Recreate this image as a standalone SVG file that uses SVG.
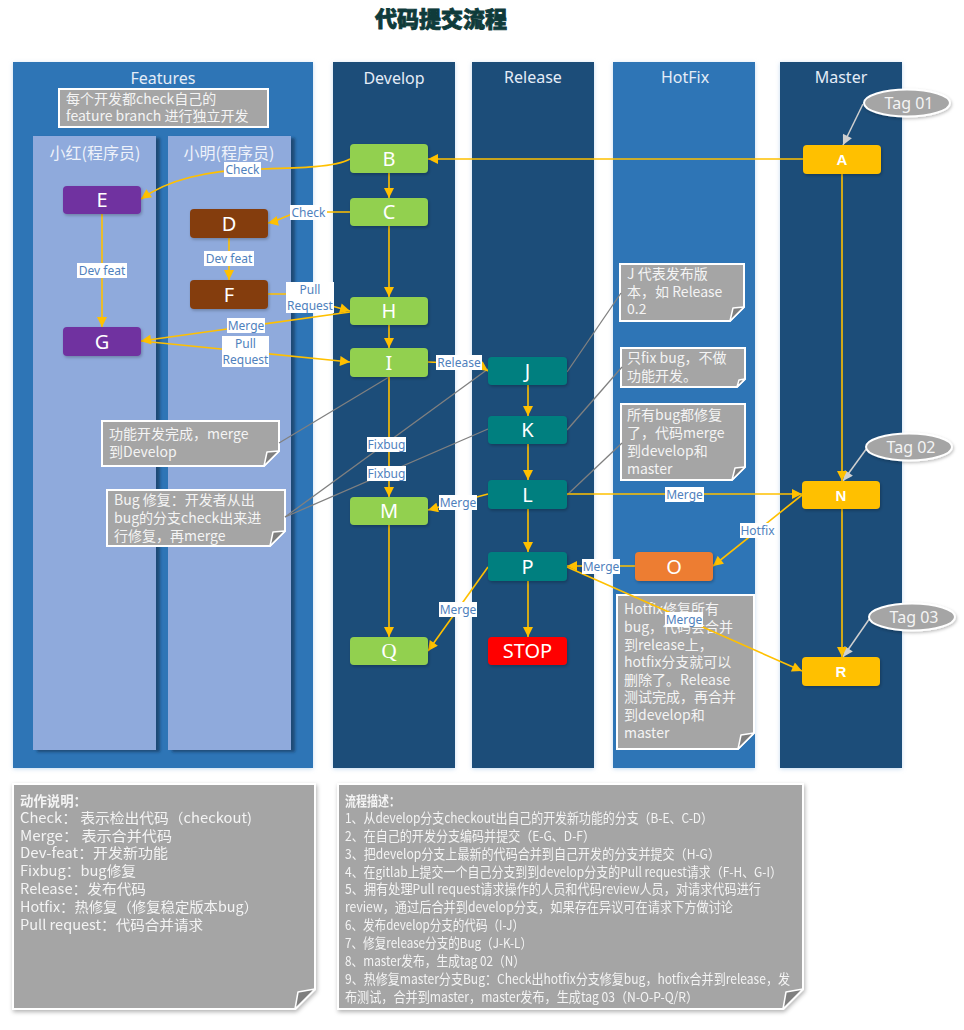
<svg xmlns="http://www.w3.org/2000/svg" width="964" height="1030" viewBox="0 0 964 1030">
<style>
.lane-d{fill:#1f4e79;filter:url(#glow)}
.lane-l{fill:#2e75b6;filter:url(#glow)}
.sub{fill:#8faadc;filter:url(#subsh)}
.lh{font-family:'Noto Sans','Noto Sans CJK SC',sans-serif;font-size:16px;fill:#e4ecf7;text-anchor:middle}
.sh{font-family:'Noto Sans CJK SC','Noto Sans',sans-serif;font-size:16px;fill:#eef2fa;text-anchor:middle}
.n{stroke:none;filter:url(#nsh)}
.nt{font-family:'Noto Sans','Open Sans',sans-serif;font-size:20px;fill:#fff;text-anchor:middle}
.nb{font-family:'Liberation Sans',Arial,sans-serif;font-size:15px;font-weight:bold;fill:#fff;text-anchor:middle}
.c{stroke:#ffc000;stroke-width:1.6;fill:none;marker-end:url(#ag)}
.g{stroke:#808080;stroke-width:1.3;fill:none}
.tagl{stroke:#d0d0d0;stroke-width:1.5;fill:none;marker-end:url(#agr)}
.lb{fill:#fff}
.lt{font-family:'Noto Sans','Open Sans',sans-serif;font-size:12px;fill:#4f81bd;text-anchor:middle}
.note{fill:#a5a5a5;stroke:#fff;stroke-width:2}
.fold{fill:#7f7f7f;stroke:#fff;stroke-width:1.5;stroke-linejoin:round}
.nx{font-family:'Noto Sans CJK SC','Noto Sans',sans-serif;font-size:14px;fill:#f4f4f4}
.bx{font-family:'Noto Sans CJK SC','Noto Sans',sans-serif;font-size:14px;fill:#f4f4f4}
.bxr{font-family:'Noto Sans CJK SC','Noto Sans',sans-serif;font-size:13.5px;fill:#f4f4f4}
.tag{fill:#a5a5a5;stroke:#fff;stroke-width:2;filter:url(#nsh)}
.tagt{font-family:'Noto Sans',sans-serif;font-size:16px;fill:#f4f4f4;text-anchor:middle}
</style>
<defs>
<filter id="glow" x="-5%" y="-5%" width="110%" height="110%"><feDropShadow dx="0" dy="1" stdDeviation="2" flood-color="#9dc3e6" flood-opacity="0.6"/></filter>
<filter id="subsh" x="-10%" y="-5%" width="125%" height="110%"><feDropShadow dx="4" dy="2" stdDeviation="1.5" flood-color="#1d3d66" flood-opacity="0.8"/></filter>
<filter id="nsh" x="-10%" y="-20%" width="125%" height="150%"><feDropShadow dx="1" dy="1.5" stdDeviation="1.5" flood-color="#000" flood-opacity="0.25"/></filter>
<filter id="bsh" x="-5%" y="-5%" width="110%" height="110%"><feDropShadow dx="1" dy="2" stdDeviation="2" flood-color="#000" flood-opacity="0.3"/></filter>
<marker id="ag" viewBox="0 0 10 10" refX="10" refY="5" markerWidth="11" markerHeight="10" markerUnits="userSpaceOnUse" orient="auto"><path d="M0,0 L10,5 L0,10 z" fill="#ffc000"/></marker>
<marker id="agr" viewBox="0 0 10 10" refX="10" refY="5" markerWidth="12" markerHeight="10" markerUnits="userSpaceOnUse" orient="auto"><path d="M0,0 L10,5 L0,10 z" fill="#d0d0d0"/></marker>
</defs>
<rect width="964" height="1030" fill="#fff"/>
<text x="441" y="27" font-family="'Noto Sans CJK SC',sans-serif" font-size="22" font-weight="900" fill="#0f3b3b" stroke="#0f3b3b" stroke-width="0.8" text-anchor="middle">代码提交流程</text>

<g id="lanes">
<rect class="lane-l" x="13" y="62" width="300" height="706"/>
<text class="lh" x="163" y="84">Features</text>
<rect class="sub" x="33" y="136" width="123" height="614"/>
<rect class="sub" x="168" y="136" width="123" height="614"/>
<text class="sh" x="95" y="159">小红(程序员)</text>
<text class="sh" x="229" y="159">小明(程序员)</text>
<rect class="lane-d" x="333" y="62" width="122" height="706"/>
<text class="lh" x="394" y="84">Develop</text>
<rect class="lane-d" x="472" y="62" width="122" height="706"/>
<text class="lh" x="533" y="83">Release</text>
<rect class="lane-l" x="613" y="62" width="142" height="706"/>
<text class="lh" x="685" y="83">HotFix</text>
<rect class="lane-d" x="780" y="62" width="122" height="706"/>
<text class="lh" x="841" y="83">Master</text>
</g>

<g id="notes">
<g id="note-feature">
<rect class="note" x="59" y="89" width="209" height="38"/>
<text class="nx" x="66" y="104">每个开发都check自己的</text>
<text class="nx" x="66" y="121">feature branch 进行独立开发</text>
</g>
<g id="note-done">
<path class="note" d="M102,421 H279 V451 L264,466 H102 Z"/>
<path class="fold" d="M264,466 L279,451 L267,452 Z"/>
<text class="nx" x="109" y="439">功能开发完成，merge</text>
<text class="nx" x="109" y="457">到Develop</text>
</g>
<g id="note-bug">
<path class="note" d="M107,490 H285 V531 L270,546 H107 Z"/>
<path class="fold" d="M270,546 L285,531 L273,532 Z"/>
<text class="nx" x="114" y="505">Bug 修复：开发者从出</text>
<text class="nx" x="114" y="523">bug的分支check出来进</text>
<text class="nx" x="114" y="541">行修复，再merge</text>
</g>
<g id="note-j">
<path class="note" d="M620,264 H744 V307 L730,321 H620 Z"/>
<path class="fold" d="M730,321 L744,307 L733,308 Z"/>
<text class="nx" x="627" y="279">J 代表发布版</text>
<text class="nx" x="627" y="297">本，如 Release</text>
<text class="nx" x="627" y="314">0.2</text>
</g>
<g id="note-fix">
<path class="note" d="M621,348 H745 V379 L737,387 H621 Z"/>
<path class="fold" d="M737,387 L745,379 L739,380 Z"/>
<text class="nx" x="627" y="363">只fix bug，不做</text>
<text class="nx" x="627" y="381">功能开发。</text>
</g>
<g id="note-allbug">
<path class="note" d="M621,404 H745 V467 L732,480 H621 Z"/>
<path class="fold" d="M732,480 L745,467 L735,468 Z"/>
<text class="nx" x="627" y="420">所有bug都修复</text>
<text class="nx" x="627" y="438">了，代码merge</text>
<text class="nx" x="627" y="456">到develop和</text>
<text class="nx" x="627" y="474">master</text>
</g>
<g id="note-hotfix">
<path class="note" d="M617,595 H754 V733 L738,749 H617 Z"/>
<path class="fold" d="M738,749 L754,733 L741,735 Z"/>
<text class="nx" x="624" y="614">Hotfix修复所有</text>
<text class="nx" x="624" y="632">bug，代码会合并</text>
<text class="nx" x="624" y="650">到release上，</text>
<text class="nx" x="624" y="667">hotfix分支就可以</text>
<text class="nx" x="624" y="685">删除了。Release</text>
<text class="nx" x="624" y="702">测试完成，再合并</text>
<text class="nx" x="624" y="720">到develop和</text>
<text class="nx" x="624" y="738">master</text>
</g>
</g>

<g id="connectors">
<path class="g" d="M279,443 L389,377"/>
<path class="g" d="M285,517 L488,369"/>
<path class="g" d="M285,517 L488,429"/>
<path class="g" d="M567,372 L621,293"/>
<path class="g" d="M567,430 L622,367"/>
<path class="g" d="M567,495 L622,443"/>
<path class="tagl" d="M863,104 L843,145"/>
<path class="tagl" d="M867,448 L843,481"/>
<path class="tagl" d="M870,618 L843,657"/>
<path class="c" d="M803,159 L428,159"/>
<path class="c" d="M350,159 C336,167 300,168 262,169 C205,170 168,180 141,199"/>
<path class="c" d="M389,173 L389,198"/>
<path class="c" d="M350,212 L300,212 C290,213 282,220 268,223"/>
<path class="c" d="M102,214 L102,327"/>
<path class="c" d="M229,238 L229,280"/>
<path class="c" d="M268,294 L288,294 L350,311"/>
<path class="c" d="M389,226 L389,297"/>
<path class="c" d="M350,312 L141,341"/>
<path class="c" d="M141,341 L350,362"/>
<path class="c" d="M389,325 L389,348"/>
<path class="c" d="M428,362 L478,364 L488,371"/>
<path class="c" d="M389,377 L389,497"/>
<path class="c" d="M528,385 L528,416"/>
<path class="c" d="M528,444 L528,480"/>
<path class="c" d="M488,494 L428,510"/>
<path class="c" d="M567,494 L802,494"/>
<path class="c" d="M528,509 L528,552"/>
<path class="c" d="M802,495 L713,566"/>
<path class="c" d="M635,566 L567,566"/>
<path class="c" d="M567,567 L802,671"/>
<path class="c" d="M528,581 L528,637"/>
<path class="c" d="M488,567 L428,651"/>
<path class="c" d="M389,525 L389,637"/>
<path class="c" d="M842,174 L842,481"/>
<path class="c" d="M842,509 L842,657"/>
<g id="labels">
<rect class="lb" x="224" y="162" width="37" height="15"/><text class="lt" x="242.5" y="174">Check</text>
<rect class="lb" x="290" y="205" width="37" height="15"/><text class="lt" x="308.5" y="217">Check</text>
<rect class="lb" x="77" y="263" width="50" height="15"/><text class="lt" x="102" y="275">Dev feat</text>
<rect class="lb" x="204" y="251" width="50" height="15"/><text class="lt" x="229" y="263">Dev feat</text>
<rect class="lb" x="286" y="282" width="48" height="31"/><text class="lt" x="310" y="294">Pull</text><text class="lt" x="310" y="310">Request</text>
<rect class="lb" x="227" y="318" width="38" height="15"/><text class="lt" x="246" y="330">Merge</text>
<rect class="lb" x="222" y="336" width="47" height="31"/><text class="lt" x="245.5" y="348">Pull</text><text class="lt" x="245.5" y="364">Request</text>
<rect class="lb" x="436" y="355" width="46" height="15"/><text class="lt" x="459" y="367">Release</text>
<rect class="lb" x="367" y="437" width="39" height="15"/><text class="lt" x="386.5" y="449">Fixbug</text>
<rect class="lb" x="367" y="466" width="39" height="15"/><text class="lt" x="386.5" y="478">Fixbug</text>
<rect class="lb" x="439" y="495" width="38" height="15"/><text class="lt" x="458" y="507">Merge</text>
<rect class="lb" x="665" y="487" width="39" height="15"/><text class="lt" x="684.5" y="499">Merge</text>
<rect class="lb" x="740" y="523" width="35" height="15"/><text class="lt" x="757.5" y="535">Hotfix</text>
<rect class="lb" x="582" y="559" width="38" height="15"/><text class="lt" x="601" y="571">Merge</text>
<rect class="lb" x="665" y="612" width="38" height="15"/><text class="lt" x="684" y="624">Merge</text>
<rect class="lb" x="439" y="602" width="38" height="15"/><text class="lt" x="458" y="614">Merge</text>
</g>
</g>

<g id="tag01"><ellipse class="tag" cx="907" cy="103" rx="43" ry="13.5"/><text class="tagt" x="909" y="109">Tag 01</text></g>
<g id="tag02"><ellipse class="tag" cx="909" cy="447" rx="43" ry="13.5"/><text class="tagt" x="911" y="453">Tag 02</text></g>
<g id="tag03"><ellipse class="tag" cx="912" cy="617" rx="43" ry="13.5"/><text class="tagt" x="914" y="623">Tag 03</text></g>

<g id="node-A"><rect class="n" x="803" y="145" width="78" height="29" rx="4" fill="#ffc000"/><text class="nb" x="842" y="165">A</text></g>
<g id="node-B"><rect class="n" x="350" y="144" width="78" height="29" rx="4" fill="#92d050"/><text class="nt" x="389" y="165.5">B</text></g>
<g id="node-C"><rect class="n" x="350" y="198" width="78" height="28" rx="4" fill="#92d050"/><text class="nt" x="389" y="219">C</text></g>
<g id="node-E"><rect class="n" x="63" y="186" width="78" height="28" rx="4" fill="#7030a0"/><text class="nt" x="102" y="207">E</text></g>
<g id="node-D"><rect class="n" x="190" y="209" width="78" height="29" rx="4" fill="#843c0c"/><text class="nt" x="229" y="230.5">D</text></g>
<g id="node-F"><rect class="n" x="190" y="280" width="78" height="29" rx="4" fill="#843c0c"/><text class="nt" x="229" y="301.5">F</text></g>
<g id="node-G"><rect class="n" x="63" y="327" width="78" height="29" rx="4" fill="#7030a0"/><text class="nt" x="102" y="348.5">G</text></g>
<g id="node-H"><rect class="n" x="350" y="297" width="78" height="28" rx="4" fill="#92d050"/><text class="nt" x="389" y="318">H</text></g>
<g id="node-I"><rect class="n" x="350" y="348" width="78" height="29" rx="4" fill="#92d050"/><text class="nt" x="389" y="369.5">I</text></g>
<g id="node-M"><rect class="n" x="350" y="497" width="78" height="28" rx="4" fill="#92d050"/><text class="nt" x="389" y="518">M</text></g>
<g id="node-Q"><rect class="n" x="350" y="637" width="78" height="28" rx="4" fill="#92d050"/><text x="389" y="658" font-family="'Liberation Serif',serif" font-size="21" fill="#fff" text-anchor="middle">Q</text></g>
<g id="node-J"><rect class="n" x="488" y="357" width="79" height="28" rx="4" fill="#007f7f"/><text class="nt" x="527.5" y="378">J</text></g>
<g id="node-K"><rect class="n" x="488" y="416" width="79" height="28" rx="4" fill="#007f7f"/><text class="nt" x="527.5" y="437">K</text></g>
<g id="node-L"><rect class="n" x="488" y="480" width="79" height="29" rx="4" fill="#007f7f"/><text class="nt" x="527.5" y="501.5">L</text></g>
<g id="node-P"><rect class="n" x="488" y="552" width="79" height="29" rx="4" fill="#007f7f"/><text class="nt" x="527.5" y="573.5">P</text></g>
<g id="node-STOP"><rect class="n" x="488" y="637" width="79" height="28" rx="4" fill="#ff0000"/><text class="nt" x="527.5" y="658">STOP</text></g>
<g id="node-O"><rect class="n" x="635" y="552" width="78" height="29" rx="4" fill="#ed7d31"/><text class="nt" x="674" y="573.5">O</text></g>
<g id="node-N"><rect class="n" x="802" y="481" width="78" height="28" rx="4" fill="#ffc000"/><text class="nb" x="841" y="500.5">N</text></g>
<g id="node-R"><rect class="n" x="802" y="657" width="78" height="29" rx="4" fill="#ffc000"/><text class="nb" x="841" y="677">R</text></g>

<g id="box-actions" filter="url(#bsh)">
<path class="note" d="M13,784 H315 V989 L295,1009 H13 Z"/>
<path class="fold" d="M295,1009 L315,989 L298,992 Z"/>
<text class="bx" x="20" y="806" font-weight="bold" textLength="67" lengthAdjust="spacingAndGlyphs">动作说明：</text>
<text class="bx" x="20" y="823" textLength="232" lengthAdjust="spacingAndGlyphs">Check： 表示检出代码（checkout)</text>
<text class="bx" x="20" y="841" textLength="152" lengthAdjust="spacingAndGlyphs">Merge： 表示合并代码</text>
<text class="bx" x="20" y="858" textLength="148" lengthAdjust="spacingAndGlyphs">Dev-feat：开发新功能</text>
<text class="bx" x="20" y="876" textLength="116" lengthAdjust="spacingAndGlyphs">Fixbug：bug修复</text>
<text class="bx" x="20" y="894" textLength="126" lengthAdjust="spacingAndGlyphs">Release：发布代码</text>
<text class="bx" x="20" y="912" textLength="238" lengthAdjust="spacingAndGlyphs">Hotfix：热修复（修复稳定版本bug）</text>
<text class="bx" x="20" y="930" textLength="183" lengthAdjust="spacingAndGlyphs">Pull request：代码合并请求</text>
</g>

<g id="box-flow" filter="url(#bsh)">
<path class="note" d="M338,784 H803 V989 L783,1009 H338 Z"/>
<path class="fold" d="M783,1009 L803,989 L786,992 Z"/>
<text class="bxr" x="345" y="806" font-weight="bold" textLength="55" lengthAdjust="spacingAndGlyphs">流程描述：</text>
<text class="bxr" x="345" y="823" textLength="368" lengthAdjust="spacingAndGlyphs">1、从develop分支checkout出自己的开发新功能的分支（B-E、C-D）</text>
<text class="bxr" x="345" y="841" textLength="250" lengthAdjust="spacingAndGlyphs">2、在自己的开发分支编码并提交（E-G、D-F）</text>
<text class="bxr" x="345" y="859" textLength="375" lengthAdjust="spacingAndGlyphs">3、把develop分支上最新的代码合并到自己开发的分支并提交（H-G）</text>
<text class="bxr" x="345" y="877" textLength="437" lengthAdjust="spacingAndGlyphs">4、在gitlab上提交一个自己分支到到develop分支的Pull request请求（F-H、G-I）</text>
<text class="bxr" x="345" y="894" textLength="416" lengthAdjust="spacingAndGlyphs">5、拥有处理Pull request请求操作的人员和代码review人员，对请求代码进行</text>
<text class="bxr" x="345" y="912" textLength="388" lengthAdjust="spacingAndGlyphs">review，通过后合并到develop分支，如果存在异议可在请求下方做讨论</text>
<text class="bxr" x="345" y="930" textLength="179" lengthAdjust="spacingAndGlyphs">6、发布develop分支的代码（I-J）</text>
<text class="bxr" x="345" y="948" textLength="187" lengthAdjust="spacingAndGlyphs">7、修复release分支的Bug（J-K-L）</text>
<text class="bxr" x="345" y="966" textLength="180" lengthAdjust="spacingAndGlyphs">8、master发布，生成tag 02（N）</text>
<text class="bxr" x="345" y="984" textLength="445" lengthAdjust="spacingAndGlyphs">9、热修复master分支Bug：Check出hotfix分支修复bug，hotfix合并到release，发</text>
<text class="bxr" x="345" y="1002" textLength="353" lengthAdjust="spacingAndGlyphs">布测试，合并到master，master发布，生成tag 03（N-O-P-Q/R）</text>
</g>
</svg>
